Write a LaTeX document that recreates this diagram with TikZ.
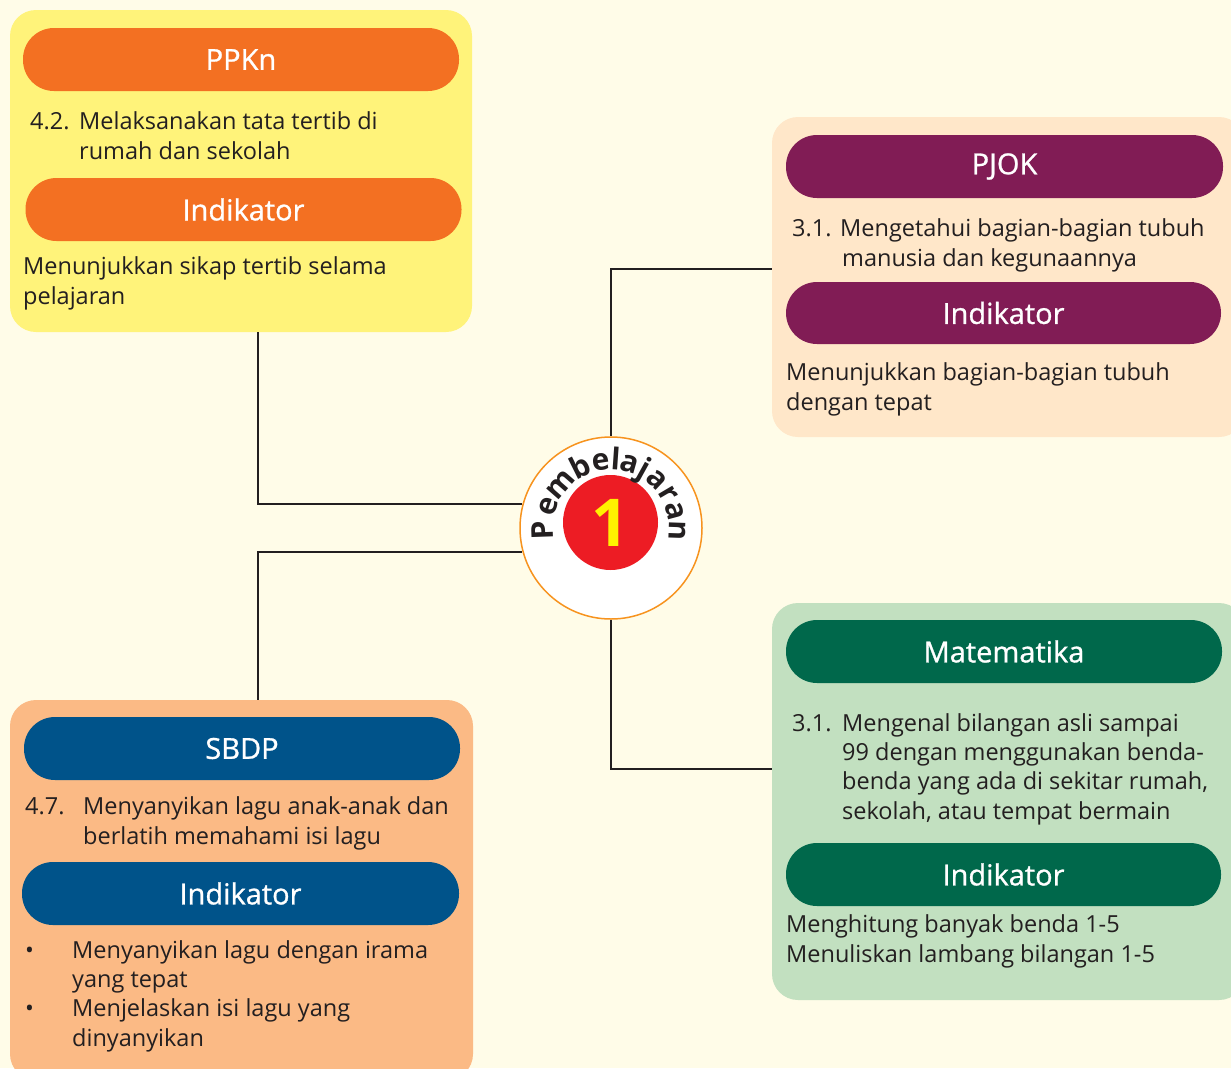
\documentclass[tikz,border=0pt]{standalone}
\usepackage{fontspec}
\setmainfont{Open Sans}
\newfontfamily\headfont[FakeBold=0.9]{Open Sans}

\definecolor{bgcream}{HTML}{FFFCE8}
\definecolor{ppknbg}{HTML}{FFF37A}
\definecolor{ppknhead}{HTML}{F37022}
\definecolor{pjokbg}{HTML}{FFE7C9}
\definecolor{pjokhead}{HTML}{811C55}
\definecolor{matbg}{HTML}{C2E0C0}
\definecolor{mathead}{HTML}{00684B}
\definecolor{sbdpbg}{HTML}{FBBA85}
\definecolor{sbdphead}{HTML}{00538A}
\definecolor{ringorange}{HTML}{F7931E}
\definecolor{numred}{HTML}{ED1C24}
\definecolor{numyellow}{HTML}{FFF200}
\definecolor{textdark}{HTML}{231F20}

\tikzset{
  panel/.style={rounded corners=26pt, inner sep=0pt},
  header/.style={rounded corners=31pt, minimum width=436pt, minimum height=63pt,
    inner sep=0pt, text=white, font=\headfont\fontsize{29}{32}\selectfont},
  body/.style={anchor=base west, inner sep=0pt, align=left, text=textdark,
    font=\fontsize{23.5}{29.3}\selectfont},
  ringletter/.style={anchor=base, inner sep=0pt, text=textdark,
    font=\bfseries\fontsize{30}{30}\selectfont},
  link/.style={line width=2pt, draw=textdark},
}

\begin{document}
\begin{tikzpicture}[x=1pt,y=-1pt]
  \useasboundingbox (0,0) rectangle (1231,1068);
  \clip (0,0) rectangle (1231,1068);
  \fill[bgcream] (0,0) rectangle (1231,1068);

  % panels
  \node[panel, fill=ppknbg, minimum width=462pt, minimum height=322pt] (ppkn) at (241,171) {};
  \node[panel, fill=pjokbg, minimum width=473pt, minimum height=320pt] (pjok) at (1008.5,277) {};
  \node[panel, fill=matbg, minimum width=473pt, minimum height=397pt] (mat) at (1008.5,801.5) {};
  \node[panel, fill=sbdpbg, minimum width=463pt, minimum height=380pt] (sbdp) at (241.5,890) {};

  % PPKn (body nodes sit on their last baseline)
  \node[header, fill=ppknhead] (ppknhd) at (241,59.5) {PPKn};
  \node[body] (ppknkd) at (30,159) {\makebox[49pt][l]{4.2.}Melaksanakan tata tertib di\\\hspace*{49pt}rumah dan sekolah};
  \node[header, fill=ppknhead] (ppknind) at (243.5,209.5) {Indikator};
  \node[body] (ppkntxt) at (23,304) {Menunjukkan sikap tertib selama\\pelajaran};

  % PJOK
  \node[header, fill=pjokhead, minimum width=437pt] (pjokhd) at (1004.5,166.5) {PJOK};
  \node[body] (pjokkd) at (792,266) {\makebox[48pt][l]{3.1.}Mengetahui bagian-bagian tubuh\\\hspace*{50pt}manusia dan kegunaannya};
  \node[header, fill=pjokhead, minimum width=435pt, minimum height=62pt] (pjokind) at (1003.5,313) {Indikator};
  \node[body] (pjoktxt) at (786,410) {Menunjukkan bagian-bagian tubuh\\dengan tepat};

  % Matematika
  \node[header, fill=mathead] (mathd) at (1004,651.5) {Matematika};
  \node[body] (matkd) at (792,819) {\makebox[50pt][l]{3.1.}Mengenal bilangan asli sampai\\\hspace*{50pt}99 dengan menggunakan benda-\\\hspace*{50pt}benda yang ada di sekitar rumah,\\\hspace*{50pt}sekolah, atau tempat bermain};
  \node[header, fill=mathead, minimum width=435pt] (matind) at (1003.5,874.5) {Indikator};
  \node[body] (mattxt) at (786,962) {Menghitung banyak benda 1-5\\Menuliskan lambang bilangan 1-5};

  % SBDP
  \node[header, fill=sbdphead] (sbdphd) at (242,748.5) {SBDP};
  \node[body] (sbdpkd) at (25,844) {\makebox[58pt][l]{4.7.}Menyanyikan lagu anak-anak dan\\\hspace*{58pt}berlatih memahami isi lagu};
  \node[header, fill=sbdphead, minimum width=437pt] (sbdpind) at (240.5,893.5) {Indikator};
  \node[body] (sbdptxt) at (25,1046) {\makebox[47pt][l]{\textbullet}Menyanyikan lagu dengan irama\\\hspace*{47pt}yang tepat\\\makebox[47pt][l]{\textbullet}Menjelaskan isi lagu yang\\\hspace*{47pt}dinyanyikan};

  % centre
  \node[circle, draw=ringorange, line width=1.5pt, fill=white, minimum size=182pt, inner sep=0pt] (lesson) at (611,528) {};
  \node[circle, fill=numred, minimum size=95pt, inner sep=0pt, text=numyellow,
    font=\bfseries\fontsize{66}{66}\selectfont] (num) at (610.5,522.5) {1};
  \foreach \ch/\ang [count=\i] in {P/182,e/161,m/139,b/116.5,e/98.5,l/86,a/74,j/61,a/46.5,r/30.5,a/15,n/-2}
    \node[ringletter, rotate=\ang-90] (ring\i) at ([shift={(\ang:58pt)}]lesson.center) {\ch};

  % links
  \draw[link] ([xshift=17pt]ppkn.south) |- (lesson.165);
  \draw[link] ([xshift=16.5pt]sbdp.north) |- (lesson.195);
  \draw[link] ([yshift=8pt]pjok.west) -| (lesson.north);
  \draw[link] ([yshift=32.5pt]mat.west) -| (lesson.south);
\end{tikzpicture}
\end{document}
